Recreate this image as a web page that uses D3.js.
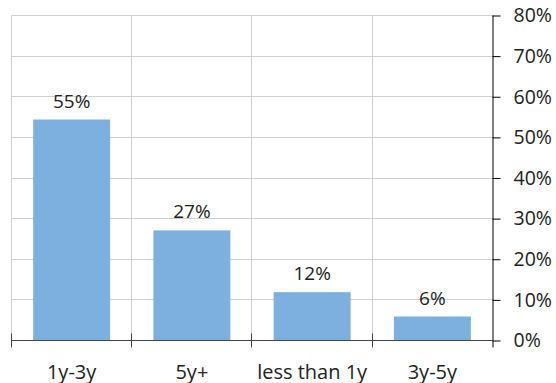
<!DOCTYPE html>
<html>
<head>
<meta charset="utf-8">
<script src="https://cdn.jsdelivr.net/npm/d3@7"></script>
<style>
  html, body { margin: 0; padding: 0; background: #fff; }
  svg { display: block; }
  text { font-family: "Open Sans", "Noto Sans", sans-serif; }
</style>
</head>
<body>
<svg id="chart" width="556" height="383"></svg>
<script>
const categories = ["1y-3y", "5y+", "less than 1y", "3y-5y"];
const values = [54.4, 27.1, 11.9, 5.9];
const valueLabels = ["55%", "27%", "12%", "6%"];
const yTicks = [0, 10, 20, 30, 40, 50, 60, 70, 80];
const yTickLabels = ["0%", "10%", "20%", "30%", "40%", "50%", "60%", "70%", "80%"];

const svg = d3.select("#chart");
const plotLeft = 11.5, plotRight = 492.5, plotTop = 15.5, plotBottom = 340.5;

const x = d3.scaleBand().domain(categories).range([plotLeft, plotRight])
  .paddingInner(0.36).paddingOuter(0.18);
const y = d3.scaleLinear().domain([0, 80]).range([plotBottom, plotTop]);
const crisp = v => Math.round(v - 0.5) + 0.5;

// horizontal gridlines
svg.append("g").selectAll("line").data(yTicks.filter(t => t > 0)).join("line")
  .attr("x1", plotLeft).attr("x2", plotRight)
  .attr("y1", d => crisp(y(d))).attr("y2", d => crisp(y(d)))
  .attr("stroke", "#d0d0d0").attr("stroke-width", 1);

// vertical gridlines (band edges)
const edges = categories.map(c => x(c) - x.step() * x.paddingInner() / 2);
svg.append("g").selectAll("line").data(edges).join("line")
  .attr("x1", d => crisp(d)).attr("x2", d => crisp(d))
  .attr("y1", plotTop).attr("y2", plotBottom)
  .attr("stroke", "#d0d0d0").attr("stroke-width", 1);

// bars
svg.append("g").selectAll("rect").data(values).join("rect")
  .attr("x", (d, i) => x(categories[i]))
  .attr("width", x.bandwidth())
  .attr("y", d => y(d))
  .attr("height", d => plotBottom - y(d))
  .attr("fill", "#7db0de");

// value labels
svg.append("g").selectAll("text").data(values).join("text")
  .attr("x", (d, i) => x(categories[i]) + x.bandwidth() / 2)
  .attr("y", d => y(d) - 12)
  .attr("text-anchor", "middle")
  .attr("font-size", "19px")
  .attr("fill", "#222")
  .text((d, i) => valueLabels[i]);

// bottom axis
const gx = svg.append("g");
gx.append("line").attr("x1", plotLeft).attr("x2", plotRight)
  .attr("y1", plotBottom).attr("y2", plotBottom)
  .attr("stroke", "#444").attr("stroke-width", 1);
gx.selectAll("line.tick").data(edges).join("line").attr("class", "tick")
  .attr("x1", d => crisp(d)).attr("x2", d => crisp(d))
  .attr("y1", plotBottom - 7).attr("y2", plotBottom + 7)
  .attr("stroke", "#444").attr("stroke-width", 1);
gx.selectAll("text").data(categories).join("text")
  .attr("x", d => x(d) + x.bandwidth() / 2)
  .attr("y", 378.5)
  .attr("text-anchor", "middle")
  .attr("font-size", "20px")
  .attr("fill", "#222")
  .text(d => d);

// right axis
const yAxis = d3.axisRight(y).tickValues(yTicks)
  .tickFormat((d, i) => yTickLabels[i]).tickSize(8).tickPadding(13).tickSizeOuter(0);
const gy = svg.append("g").attr("transform", `translate(${plotRight},0)`).call(yAxis);
gy.select(".domain").attr("stroke", "#000").attr("d", `M0.5,${plotTop}V${plotBottom + 7}`);
gy.selectAll(".tick line").attr("stroke", "#000");
gy.selectAll(".tick text").attr("font-size", "19.5px")
  .attr("font-family", "'Open Sans', 'Noto Sans', sans-serif").attr("fill", "#222");
</script>
</body>
</html>
